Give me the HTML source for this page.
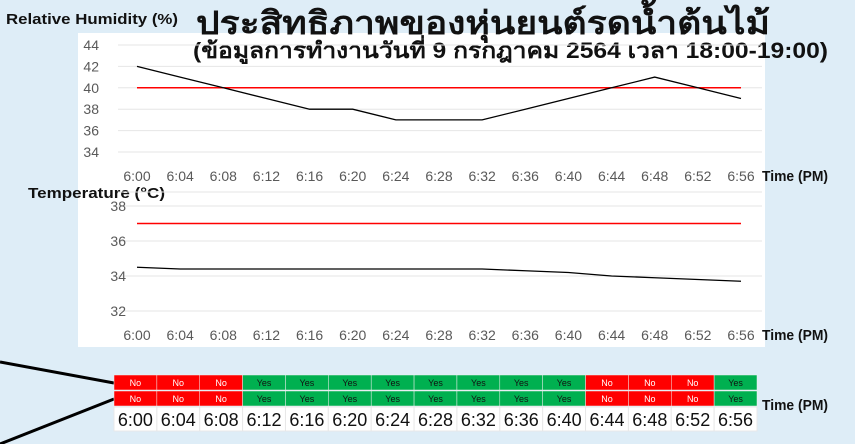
<!DOCTYPE html>
<html><head><meta charset="utf-8">
<style>
body{margin:0;width:855px;height:444px;overflow:hidden;background:#deedf7;font-family:"Liberation Sans","Noto Sans CJK SC",sans-serif;}
svg{display:block}
</style></head>
<body>
<svg id="c" width="855" height="444" xmlns="http://www.w3.org/2000/svg">
<rect x="0" y="0" width="855" height="444" fill="#deedf7"/>
<rect x="78" y="33" width="687" height="314" fill="#ffffff"/>
<text x="6" y="24" font-size="15" font-weight="bold" fill="#111" textLength="172" lengthAdjust="spacingAndGlyphs">Relative Humidity (%)</text>
<text x="196" y="34" font-size="32" font-weight="bold" fill="#111" textLength="574" lengthAdjust="spacingAndGlyphs">ประสิทธิภาพของหุ่นยนต์รดน้ำต้นไม้</text>
<text x="193" y="58" font-size="22" font-weight="bold" fill="#111" textLength="635" lengthAdjust="spacingAndGlyphs">(ข้อมูลการทำงานวันที่ 9 กรกฎาคม 2564 เวลา 18:00-19:00)</text>
<text x="28" y="198" font-size="15" font-weight="bold" fill="#111" textLength="137" lengthAdjust="spacingAndGlyphs">Temperature (°C)</text>
<line x1="0" y1="362" x2="114" y2="383" stroke="#000" stroke-width="3"/>
<line x1="0" y1="444" x2="114" y2="399" stroke="#000" stroke-width="3"/>
<text x="762" y="410" font-size="15" font-weight="bold" fill="#111" textLength="66" lengthAdjust="spacingAndGlyphs">Time (PM)</text>
<g id="g"></g>
</svg>
<script>
const times=["6:00","6:04","6:08","6:12","6:16","6:20","6:24","6:28","6:32","6:36","6:40","6:44","6:48","6:52","6:56"];
const humidity=[42,41,40,39,38,38,37,37,37,38,39,40,41,40,39];
const humidityLimit=40;
const humTicks=[34,36,38,40,42,44];
const temperature=[34.5,34.4,34.4,34.4,34.4,34.4,34.4,34.4,34.4,34.3,34.2,34.0,33.9,33.8,33.7];
const tempLimit=37;
const tempTicks=[32,34,36,38];
const row1=["No","No","No","Yes","Yes","Yes","Yes","Yes","Yes","Yes","Yes","No","No","No","Yes"];
const row2=["No","No","No","Yes","Yes","Yes","Yes","Yes","Yes","Yes","Yes","No","No","No","Yes"];

const NS="http://www.w3.org/2000/svg";
const g=document.getElementById('g');
function mk(t,a,txt){const e=document.createElementNS(NS,t);for(const k in a)e.setAttribute(k,a[k]);if(txt!==undefined)e.textContent=txt;g.appendChild(e);return e;}
const xS=i=>137+i*(741-137)/(times.length-1);
const hY=v=>152+(34-v)*(152-45)/10;
const tY=v=>311-(v-32)*(311-206)/6;

humTicks.forEach(v=>{
  const l=mk('line',{x1:118,x2:762,y1:hY(v),y2:hY(v),stroke:'#e6e6e6','stroke-width':1});
  
  
  const t=mk('text',{x:99,y:hY(v)+5,'font-size':14,fill:'#595959','text-anchor':'end'},String(v));
  
  
});
const hl=mk('line',{x1:xS(0),x2:xS(times.length-1),y1:hY(humidityLimit),y2:hY(humidityLimit),stroke:'#ff0000','stroke-width':1.5});


const hp=mk('polyline',{points:humidity.map((v,i)=>xS(i)+','+hY(v)).join(' '),fill:'none',stroke:'#000','stroke-width':1.3});


times.forEach((t,i)=>{
  const e=mk('text',{x:xS(i),y:181,'font-size':14,fill:'#595959','text-anchor':'middle'},t);
  
  
});
let e=mk('text',{x:762,y:181,'font-size':15,'font-weight':'bold',fill:'#111',textLength:66,lengthAdjust:'spacingAndGlyphs'},'Time (PM)');


const sep=mk('line',{x1:118,x2:762,y1:192,y2:192,stroke:'#e6e6e6'});



tempTicks.forEach(v=>{
  const l=mk('line',{x1:118,x2:762,y1:tY(v),y2:tY(v),stroke:'#e6e6e6','stroke-width':1});
  
  
  const t=mk('text',{x:126,y:tY(v)+5,'font-size':14,fill:'#595959','text-anchor':'end'},String(v));
  
  
});
const tl=mk('line',{x1:xS(0),x2:xS(times.length-1),y1:tY(tempLimit),y2:tY(tempLimit),stroke:'#ff0000','stroke-width':1.5});


const tp=mk('polyline',{points:temperature.map((v,i)=>xS(i)+','+tY(v)).join(' '),fill:'none',stroke:'#000','stroke-width':1.3});


times.forEach((t,i)=>{
  const e=mk('text',{x:xS(i),y:340,'font-size':14,fill:'#595959','text-anchor':'middle'},t);
  
  
});
e=mk('text',{x:762,y:340,'font-size':15,'font-weight':'bold',fill:'#111',textLength:66,lengthAdjust:'spacingAndGlyphs'},'Time (PM)');



const tx0=114,cw=(757-114)/15;
[[row1,375],[row2,391]].forEach(([row,y])=>{
  row.forEach((v,i)=>{
    const r=mk('rect',{x:tx0+i*cw,y:y,width:cw,height:15,fill:v==='Yes'?'#00b050':'#ff0000',stroke:'#f0f0f0','stroke-width':0.5});
    
    
    const t=mk('text',{x:tx0+i*cw+cw/2,y:y+11,'font-size':9,fill:v==='Yes'?'#111':'#fff','text-anchor':'middle'},v);
    
    
  });
});
times.forEach((t,i)=>{
  const r=mk('rect',{x:tx0+i*cw,y:407,width:cw,height:24,fill:'#fff',stroke:'#e8e8e8','stroke-width':1});
  
  
  const e=mk('text',{x:tx0+i*cw+cw/2,y:426,'font-size':18,fill:'#111','text-anchor':'middle'},t);
  
  
});
</script>
</body></html>
